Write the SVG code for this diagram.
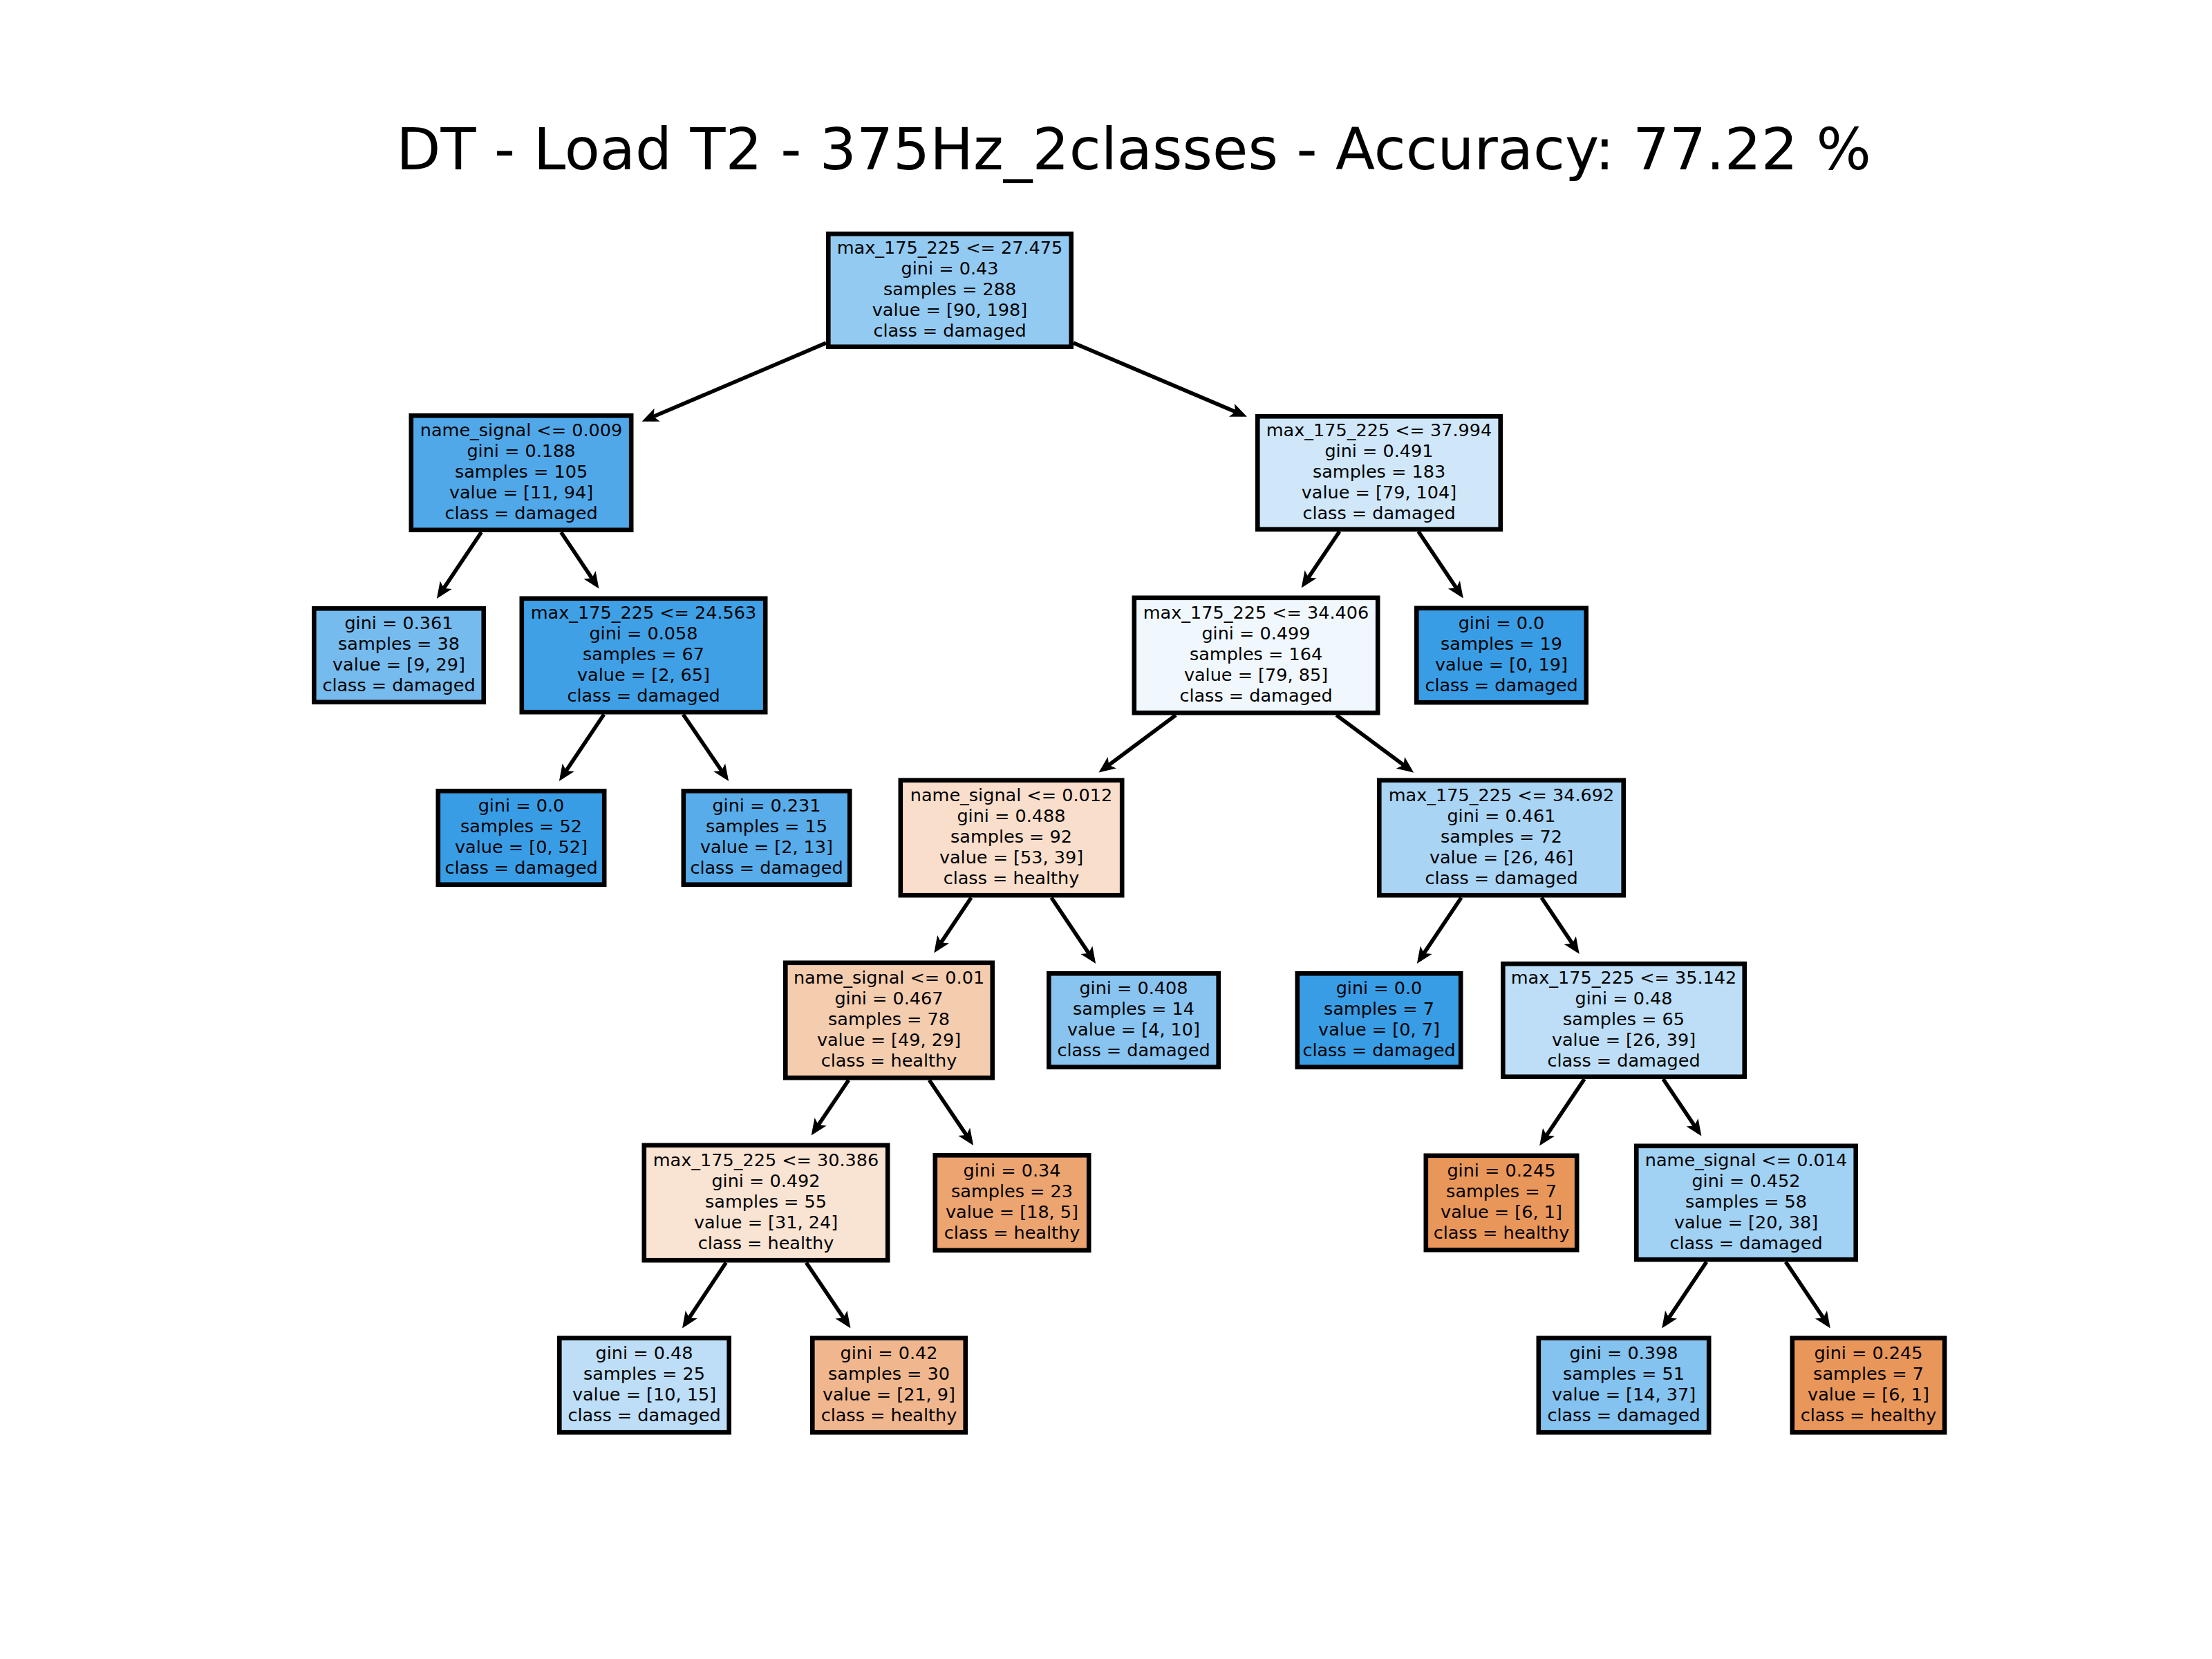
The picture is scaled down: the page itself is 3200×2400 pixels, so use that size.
<svg xmlns="http://www.w3.org/2000/svg" width="3200" height="2400" viewBox="0 0 3200 2400">
<style>
  .box { stroke: #000; stroke-width: 6.6; }
  .lbl { font-family: "DejaVu Sans", "Liberation Sans", sans-serif; font-size: 25.5px; fill: #000; text-anchor: middle; }
  .title { font-family: "DejaVu Sans", "Liberation Sans", sans-serif; font-size: 83.5px; fill: #000; text-anchor: middle; }
  .edge { stroke: #000; stroke-width: 5.6; fill: none; marker-end: url(#head); }
</style>
<defs>
  <marker id="head" markerUnits="userSpaceOnUse" markerWidth="32" markerHeight="32" viewBox="-17 -13 28 26" refX="0" refY="0" orient="auto">
    <path d="M6,0 L-15,-9 L-10,0 L-15,9 Z" fill="#000"/>
  </marker>
</defs>
<rect width="3200" height="2400" fill="#fff"/>
<text class="title" x="1640" y="245">DT - Load T2 - 375Hz_2classes - Accuracy: 77.22 %</text>

<g id="connectors">
  <line class="edge" x1="1195" y1="496.2" x2="934.9" y2="607"/>
  <line class="edge" x1="1553" y1="496.1" x2="1797.6" y2="600.1"/>
  <line class="edge" x1="696.3" y1="770" x2="635.7" y2="860.4"/>
  <line class="edge" x1="811.7" y1="770" x2="862.6" y2="845.9"/>
  <line class="edge" x1="873.7" y1="1033.5" x2="812.7" y2="1124.4"/>
  <line class="edge" x1="988.3" y1="1033.5" x2="1050.3" y2="1124.4"/>
  <line class="edge" x1="1937.7" y1="769" x2="1886.5" y2="844.9"/>
  <line class="edge" x1="2052" y1="769" x2="2113" y2="859.9"/>
  <line class="edge" x1="1701" y1="1034.5" x2="1595" y2="1113.5"/>
  <line class="edge" x1="1933.3" y1="1034.5" x2="2039.7" y2="1113.6"/>
  <line class="edge" x1="1405" y1="1298.5" x2="1355.1" y2="1372.9"/>
  <line class="edge" x1="1521" y1="1298.5" x2="1581.3" y2="1388.4"/>
  <line class="edge" x1="1227.7" y1="1562.5" x2="1177.5" y2="1636.9"/>
  <line class="edge" x1="1344.3" y1="1562.5" x2="1404.3" y2="1651.4"/>
  <line class="edge" x1="1050.3" y1="1826.5" x2="990.8" y2="1915.9"/>
  <line class="edge" x1="1166.3" y1="1826.5" x2="1226.6" y2="1915.9"/>
  <line class="edge" x1="2114" y1="1298.5" x2="2053.7" y2="1388.4"/>
  <line class="edge" x1="2230" y1="1298.5" x2="2280.9" y2="1374.4"/>
  <line class="edge" x1="2292" y1="1561" x2="2231" y2="1651.9"/>
  <line class="edge" x1="2406" y1="1561" x2="2457.6" y2="1637.9"/>
  <line class="edge" x1="2468.7" y1="1825.5" x2="2408" y2="1915.9"/>
  <line class="edge" x1="2583.3" y1="1825.5" x2="2644" y2="1915.9"/>
</g>

<g id="node0">
  <rect class="box" x="1198.3" y="338.3" width="351.4" height="163.4" fill="#93caf1"/>
  <text class="lbl" y="367"><tspan x="1374">max_175_225 &lt;= 27.475</tspan><tspan x="1374" dy="30">gini = 0.43</tspan><tspan x="1374" dy="30">samples = 288</tspan><tspan x="1374" dy="30">value = [90, 198]</tspan><tspan x="1374" dy="30">class = damaged</tspan></text>
</g>
<g id="node1">
  <rect class="box" x="594.8" y="601.3" width="318.4" height="165.4" fill="#50a8e8"/>
  <text class="lbl" y="631"><tspan x="754">name_signal &lt;= 0.009</tspan><tspan x="754" dy="30">gini = 0.188</tspan><tspan x="754" dy="30">samples = 105</tspan><tspan x="754" dy="30">value = [11, 94]</tspan><tspan x="754" dy="30">class = damaged</tspan></text>
</g>
<g id="node2">
  <rect class="box" x="454.3" y="880.3" width="245.4" height="135.4" fill="#76bbed"/>
  <text class="lbl" y="910"><tspan x="577">gini = 0.361</tspan><tspan x="577" dy="30">samples = 38</tspan><tspan x="577" dy="30">value = [9, 29]</tspan><tspan x="577" dy="30">class = damaged</tspan></text>
</g>
<g id="node3">
  <rect class="box" x="754.8" y="865.8" width="352.4" height="164.4" fill="#3fa0e6"/>
  <text class="lbl" y="895"><tspan x="931">max_175_225 &lt;= 24.563</tspan><tspan x="931" dy="30">gini = 0.058</tspan><tspan x="931" dy="30">samples = 67</tspan><tspan x="931" dy="30">value = [2, 65]</tspan><tspan x="931" dy="30">class = damaged</tspan></text>
</g>
<g id="node4">
  <rect class="box" x="633.8" y="1144.3" width="240.4" height="135.4" fill="#399de5"/>
  <text class="lbl" y="1174"><tspan x="754">gini = 0.0</tspan><tspan x="754" dy="30">samples = 52</tspan><tspan x="754" dy="30">value = [0, 52]</tspan><tspan x="754" dy="30">class = damaged</tspan></text>
</g>
<g id="node5">
  <rect class="box" x="988.8" y="1144.3" width="240.4" height="135.4" fill="#58ace9"/>
  <text class="lbl" y="1174"><tspan x="1109">gini = 0.231</tspan><tspan x="1109" dy="30">samples = 15</tspan><tspan x="1109" dy="30">value = [2, 13]</tspan><tspan x="1109" dy="30">class = damaged</tspan></text>
</g>
<g id="node6">
  <rect class="box" x="1819.3" y="602.3" width="351.4" height="163.4" fill="#cfe7f9"/>
  <text class="lbl" y="631"><tspan x="1995">max_175_225 &lt;= 37.994</tspan><tspan x="1995" dy="30">gini = 0.491</tspan><tspan x="1995" dy="30">samples = 183</tspan><tspan x="1995" dy="30">value = [79, 104]</tspan><tspan x="1995" dy="30">class = damaged</tspan></text>
</g>
<g id="node7">
  <rect class="box" x="1640.8" y="864.8" width="352.4" height="166.4" fill="#f1f8fd"/>
  <text class="lbl" y="895"><tspan x="1817">max_175_225 &lt;= 34.406</tspan><tspan x="1817" dy="30">gini = 0.499</tspan><tspan x="1817" dy="30">samples = 164</tspan><tspan x="1817" dy="30">value = [79, 85]</tspan><tspan x="1817" dy="30">class = damaged</tspan></text>
</g>
<g id="node8">
  <rect class="box" x="1302.8" y="1128.8" width="320.4" height="166.4" fill="#f8decb"/>
  <text class="lbl" y="1159"><tspan x="1463">name_signal &lt;= 0.012</tspan><tspan x="1463" dy="30">gini = 0.488</tspan><tspan x="1463" dy="30">samples = 92</tspan><tspan x="1463" dy="30">value = [53, 39]</tspan><tspan x="1463" dy="30">class = healthy</tspan></text>
</g>
<g id="node9">
  <rect class="box" x="1136.3" y="1392.8" width="299.4" height="166.4" fill="#f4ccae"/>
  <text class="lbl" y="1423"><tspan x="1286">name_signal &lt;= 0.01</tspan><tspan x="1286" dy="30">gini = 0.467</tspan><tspan x="1286" dy="30">samples = 78</tspan><tspan x="1286" dy="30">value = [49, 29]</tspan><tspan x="1286" dy="30">class = healthy</tspan></text>
</g>
<g id="node10">
  <rect class="box" x="931.8" y="1656.8" width="352.4" height="166.4" fill="#f9e3d2"/>
  <text class="lbl" y="1687"><tspan x="1108">max_175_225 &lt;= 30.386</tspan><tspan x="1108" dy="30">gini = 0.492</tspan><tspan x="1108" dy="30">samples = 55</tspan><tspan x="1108" dy="30">value = [31, 24]</tspan><tspan x="1108" dy="30">class = healthy</tspan></text>
</g>
<g id="node11">
  <rect class="box" x="809.3" y="1935.8" width="245.4" height="136.4" fill="#bddef6"/>
  <text class="lbl" y="1966"><tspan x="932">gini = 0.48</tspan><tspan x="932" dy="30">samples = 25</tspan><tspan x="932" dy="30">value = [10, 15]</tspan><tspan x="932" dy="30">class = damaged</tspan></text>
</g>
<g id="node12">
  <rect class="box" x="1175.3" y="1935.8" width="221.4" height="136.4" fill="#f0b78e"/>
  <text class="lbl" y="1966"><tspan x="1286">gini = 0.42</tspan><tspan x="1286" dy="30">samples = 30</tspan><tspan x="1286" dy="30">value = [21, 9]</tspan><tspan x="1286" dy="30">class = healthy</tspan></text>
</g>
<g id="node13">
  <rect class="box" x="1352.8" y="1671.3" width="222.4" height="137.4" fill="#eca470"/>
  <text class="lbl" y="1702"><tspan x="1464">gini = 0.34</tspan><tspan x="1464" dy="30">samples = 23</tspan><tspan x="1464" dy="30">value = [18, 5]</tspan><tspan x="1464" dy="30">class = healthy</tspan></text>
</g>
<g id="node14">
  <rect class="box" x="1517.3" y="1408.3" width="245.4" height="135.4" fill="#88c4ef"/>
  <text class="lbl" y="1438"><tspan x="1640">gini = 0.408</tspan><tspan x="1640" dy="30">samples = 14</tspan><tspan x="1640" dy="30">value = [4, 10]</tspan><tspan x="1640" dy="30">class = damaged</tspan></text>
</g>
<g id="node15">
  <rect class="box" x="1995.3" y="1128.8" width="353.4" height="166.4" fill="#a9d4f4"/>
  <text class="lbl" y="1159"><tspan x="2172">max_175_225 &lt;= 34.692</tspan><tspan x="2172" dy="30">gini = 0.461</tspan><tspan x="2172" dy="30">samples = 72</tspan><tspan x="2172" dy="30">value = [26, 46]</tspan><tspan x="2172" dy="30">class = damaged</tspan></text>
</g>
<g id="node16">
  <rect class="box" x="1876.8" y="1408.3" width="236.4" height="135.4" fill="#399de5"/>
  <text class="lbl" y="1438"><tspan x="1995">gini = 0.0</tspan><tspan x="1995" dy="30">samples = 7</tspan><tspan x="1995" dy="30">value = [0, 7]</tspan><tspan x="1995" dy="30">class = damaged</tspan></text>
</g>
<g id="node17">
  <rect class="box" x="2174.3" y="1394.3" width="349.4" height="163.4" fill="#bddef6"/>
  <text class="lbl" y="1423"><tspan x="2349">max_175_225 &lt;= 35.142</tspan><tspan x="2349" dy="30">gini = 0.48</tspan><tspan x="2349" dy="30">samples = 65</tspan><tspan x="2349" dy="30">value = [26, 39]</tspan><tspan x="2349" dy="30">class = damaged</tspan></text>
</g>
<g id="node18">
  <rect class="box" x="2062.8" y="1671.8" width="218.4" height="136.4" fill="#e9965a"/>
  <text class="lbl" y="1702"><tspan x="2172">gini = 0.245</tspan><tspan x="2172" dy="30">samples = 7</tspan><tspan x="2172" dy="30">value = [6, 1]</tspan><tspan x="2172" dy="30">class = healthy</tspan></text>
</g>
<g id="node19">
  <rect class="box" x="2367.3" y="1657.8" width="317.4" height="164.4" fill="#a1d1f3"/>
  <text class="lbl" y="1687"><tspan x="2526">name_signal &lt;= 0.014</tspan><tspan x="2526" dy="30">gini = 0.452</tspan><tspan x="2526" dy="30">samples = 58</tspan><tspan x="2526" dy="30">value = [20, 38]</tspan><tspan x="2526" dy="30">class = damaged</tspan></text>
</g>
<g id="node20">
  <rect class="box" x="2225.8" y="1935.8" width="246.4" height="136.4" fill="#84c2ef"/>
  <text class="lbl" y="1966"><tspan x="2349">gini = 0.398</tspan><tspan x="2349" dy="30">samples = 51</tspan><tspan x="2349" dy="30">value = [14, 37]</tspan><tspan x="2349" dy="30">class = damaged</tspan></text>
</g>
<g id="node21">
  <rect class="box" x="2592.8" y="1935.8" width="220.4" height="136.4" fill="#e9965a"/>
  <text class="lbl" y="1966"><tspan x="2703">gini = 0.245</tspan><tspan x="2703" dy="30">samples = 7</tspan><tspan x="2703" dy="30">value = [6, 1]</tspan><tspan x="2703" dy="30">class = healthy</tspan></text>
</g>
<g id="node22">
  <rect class="box" x="2049.3" y="879.8" width="245.4" height="136.4" fill="#399de5"/>
  <text class="lbl" y="910"><tspan x="2172">gini = 0.0</tspan><tspan x="2172" dy="30">samples = 19</tspan><tspan x="2172" dy="30">value = [0, 19]</tspan><tspan x="2172" dy="30">class = damaged</tspan></text>
</g>
</svg>
